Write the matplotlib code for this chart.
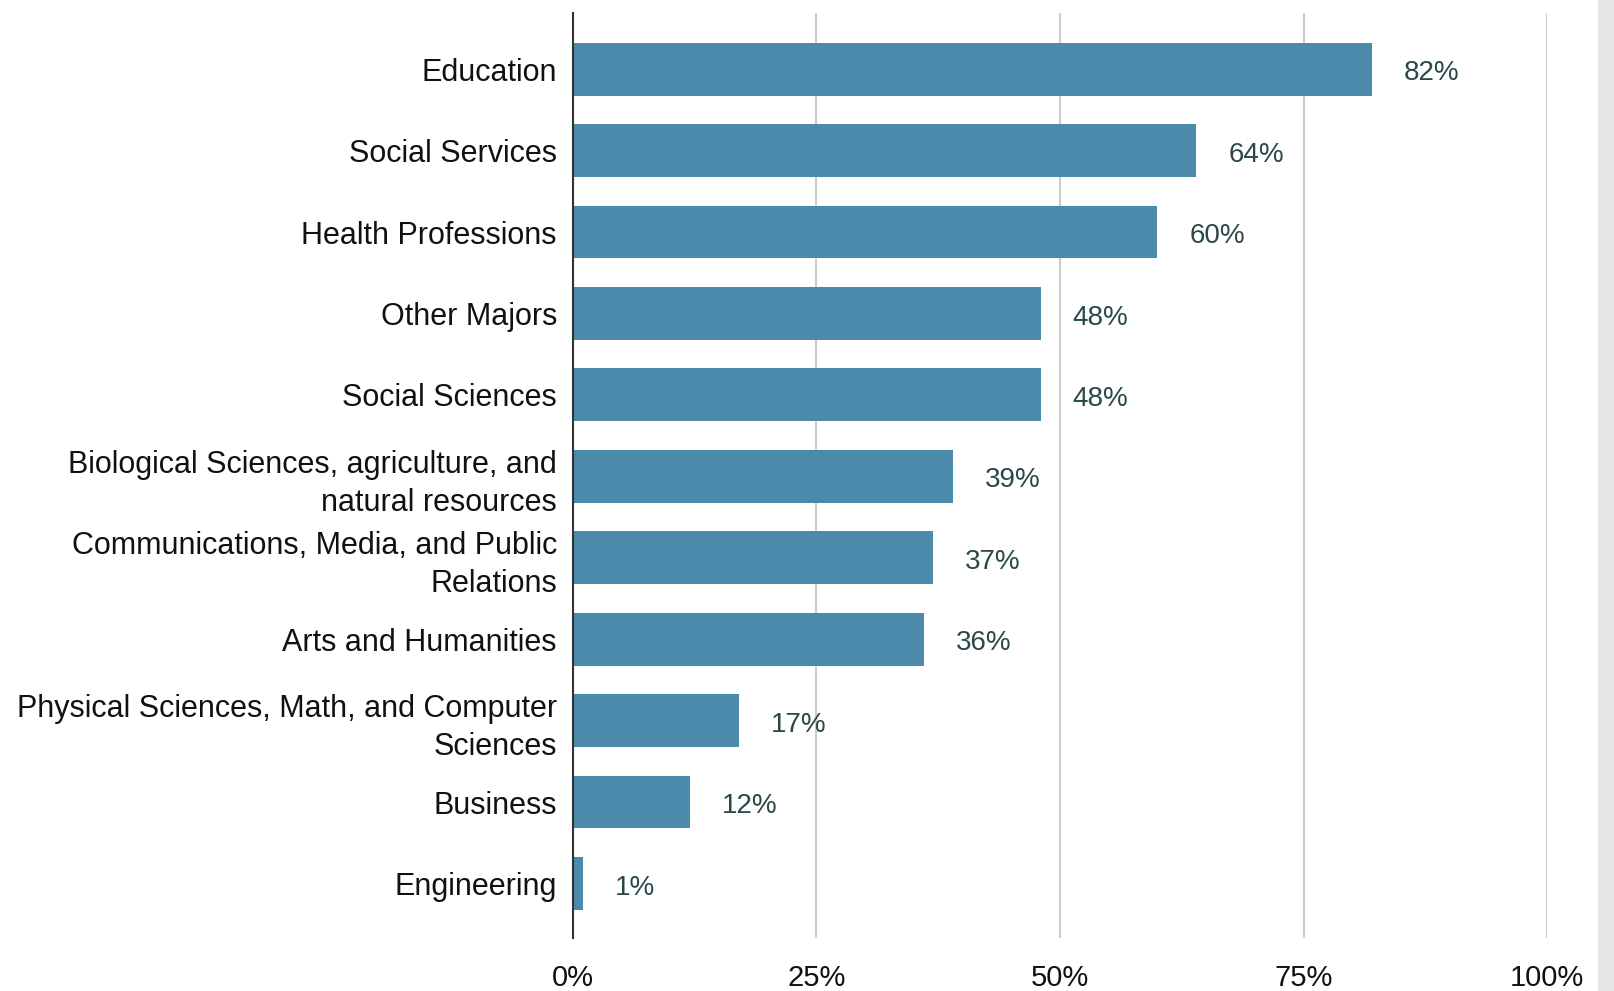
import matplotlib.pyplot as plt
from matplotlib.patches import Rectangle

# data
majors = [
    "Education",
    "Social Services",
    "Health Professions",
    "Other Majors",
    "Social Sciences",
    "Biological Sciences, agriculture, and\nnatural resources",
    "Communications, Media, and Public\nRelations",
    "Arts and Humanities",
    "Physical Sciences, Math, and Computer\nSciences",
    "Business",
    "Engineering",
]
shares = [82, 64, 60, 48, 48, 39, 37, 36, 17, 12, 1]
xticks = [0, 25, 50, 75, 100]
xticklabels = ["0%", "25%", "50%", "75%", "100%"]

plt.rcParams['font.family'] = ['Liberation Sans', 'DejaVu Sans']

fig = plt.figure(figsize=(16.14, 9.91), dpi=100)
ax = fig.add_axes([0.355, 0.0535, 0.6035, 0.9334])

# grey strip on the right edge
fig.patches.append(Rectangle((1598 / 1614, 0), 16 / 1614, 1, transform=fig.transFigure,
                             facecolor="#e6e6e6", edgecolor="none", zorder=0))

y = list(range(len(majors)))
bars = ax.barh(y, shares, height=0.65, color="#4b8aab", zorder=3)

for bar, v in zip(bars, shares):
    ax.annotate(f"{v}%", (bar.get_width(), bar.get_y() + bar.get_height() / 2),
                xytext=(23, -3), textcoords="offset points",
                va="center", ha="left", fontsize=20, color="#2a4848")

ax.set_xlim(0, 100)
ax.set_ylim(10.67, -0.69)
ax.set_yticks(y)
ax.set_yticklabels(majors, fontsize=22, color="#111111", linespacing=1.35)
ax.set_xticks(xticks)
ax.set_xticklabels(xticklabels, fontsize=21, color="#111111")
ax.tick_params(axis="y", length=0, pad=11.5)
ax.tick_params(axis="x", length=0, pad=19)

ax.grid(axis="x", color="#cccccc", linewidth=1.5, zorder=0)
ax.set_axisbelow(True)
for side in ["top", "right", "bottom"]:
    ax.spines[side].set_visible(False)
ax.spines["left"].set_color("#333333")
ax.spines["left"].set_linewidth(1.5)
ax.spines["left"].set_zorder(4)

fig.savefig("out.png", dpi=100)
